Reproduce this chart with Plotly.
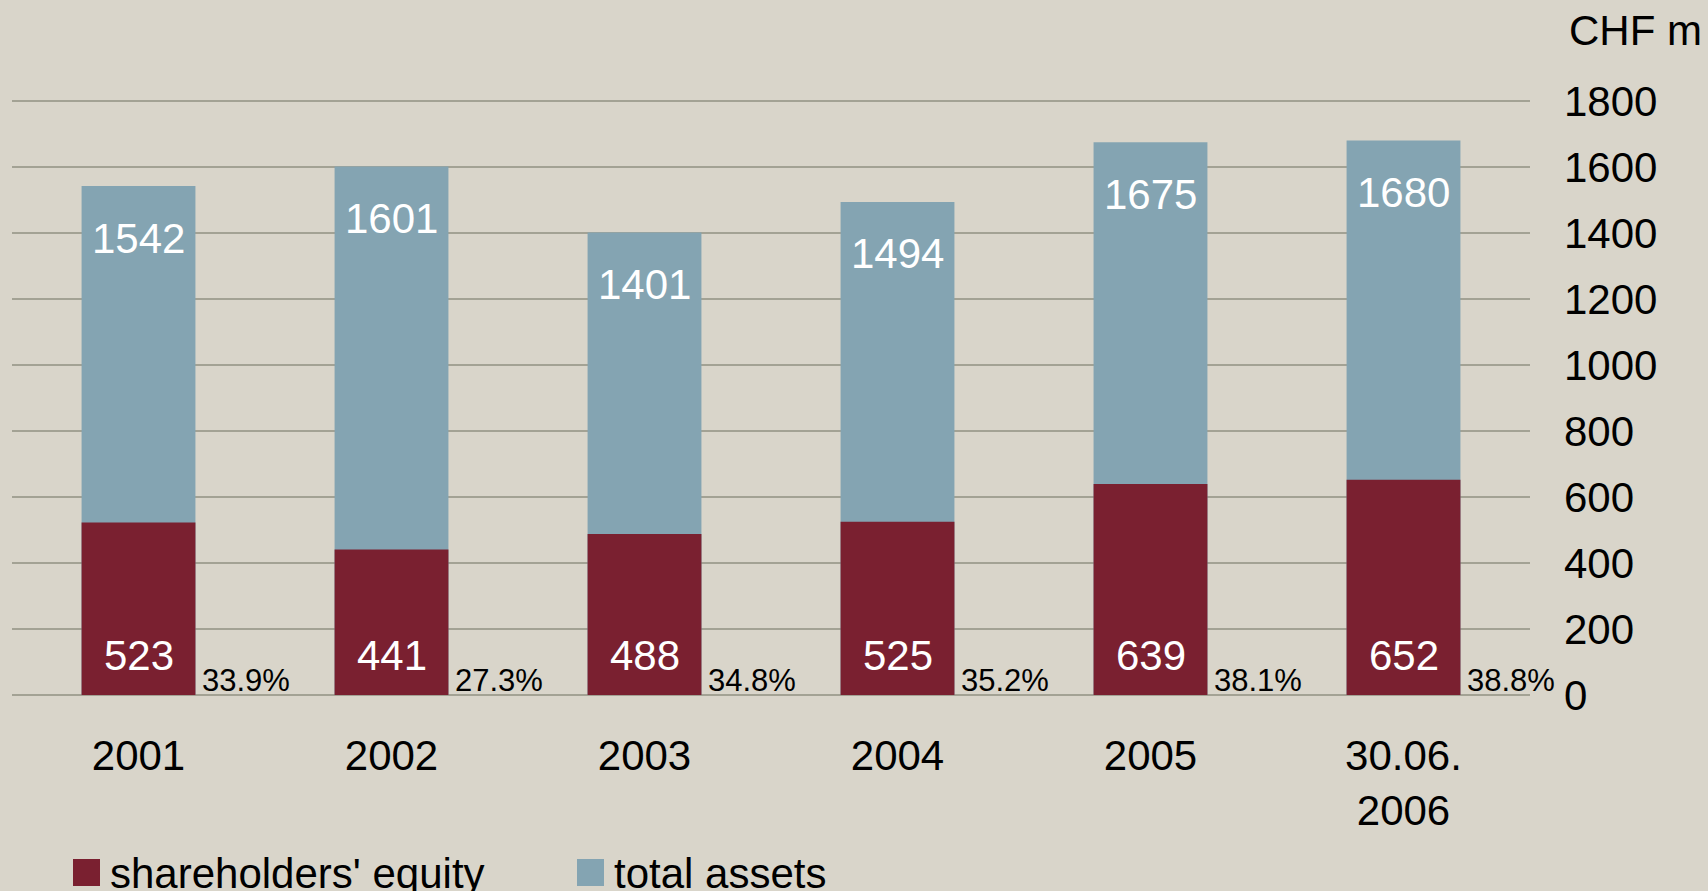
import plotly.graph_objects as go

# ---- data ----
categories = ["2001", "2002", "2003", "2004", "2005", "30.06.<br>2006"]
total_assets = [1542, 1601, 1401, 1494, 1675, 1680]
equity = [523, 441, 488, 525, 639, 652]
equity_ratio = ["33.9%", "27.3%", "34.8%", "35.2%", "38.1%", "38.8%"]
y_ticks = [0, 200, 400, 600, 800, 1000, 1200, 1400, 1600, 1800]

# ---- style ----
W, H = 1708, 891
ML, MR, MT, MB = 12, 178, 91, 196
PW, PH = W - ML - MR, H - MT - MB
Y_MAX = 1830
BG = "#D9D5CA"
GRID = "#A3A294"
C_EQ = "#7A2030"
C_TA = "#84A4B2"
FONT = "Liberation Sans, Arial, sans-serif"
BIG = 42
SMALL = 31


def px_x(p):
    return (p - ML) / PW


def px_y(p):
    return (H - MB - p) / PH


fig = go.Figure()
fig.add_trace(go.Bar(x=categories, y=total_assets, name="total assets",
                     marker=dict(color=C_TA, line=dict(width=0)), showlegend=False,
                     hoverinfo="x+y"))
fig.add_trace(go.Bar(x=categories, y=equity, name="shareholders' equity",
                     marker=dict(color=C_EQ, line=dict(width=0)), showlegend=False,
                     hoverinfo="x+y"))

annotations = []
for i, (ta, eq, r) in enumerate(zip(total_assets, equity, equity_ratio)):
    annotations.append(dict(x=i, y=ta, xref="x", yref="y", text=str(ta), showarrow=False,
                            yanchor="middle", yshift=-52,
                            font=dict(family=FONT, size=BIG, color="white")))
    annotations.append(dict(x=i, y=0, xref="x", yref="y", text=str(eq), showarrow=False,
                            yanchor="middle", yshift=40,
                            font=dict(family=FONT, size=BIG, color="white")))
    annotations.append(dict(x=i, y=0, xref="x", yref="y", text=r, showarrow=False,
                            xanchor="left", xshift=61, yanchor="middle", yshift=15,
                            font=dict(family=FONT, size=SMALL, color="black")))

# unit label
annotations.append(dict(x=px_x(1567), y=px_y(31), xref="paper", yref="paper", text="CHF m",
                        showarrow=False, xanchor="left", yanchor="middle",
                        font=dict(family=FONT, size=BIG, color="black")))

# manual legend
shapes = []
legend_items = [("shareholders' equity", C_EQ, 73), ("total assets", C_TA, 577)]
for label, col, x0 in legend_items:
    shapes.append(dict(type="rect", xref="paper", yref="paper",
                       x0=px_x(x0), x1=px_x(x0 + 27), y0=px_y(886), y1=px_y(859),
                       fillcolor=col, line=dict(width=0)))
    annotations.append(dict(x=px_x(x0 + 35), y=px_y(873), xref="paper", yref="paper",
                            text=label, showarrow=False, xanchor="left", yanchor="middle",
                            font=dict(family=FONT, size=BIG, color="black")))

fig.update_layout(
    width=W, height=H,
    margin=dict(l=ML, r=MR, t=MT, b=MB, pad=0),
    paper_bgcolor=BG, plot_bgcolor=BG,
    barmode="overlay", bargap=0.55,
    font=dict(family=FONT, size=BIG, color="black"),
    annotations=annotations, shapes=shapes,
    xaxis=dict(type="category", range=[-0.5, len(categories) - 0.5],
               showgrid=False, showline=False, zeroline=False,
               ticks="", tickfont=dict(size=BIG), ticklabelstandoff=32),
    yaxis=dict(side="right", range=[0, Y_MAX], tickvals=y_ticks,
               showgrid=True, gridcolor=GRID, gridwidth=1.5,
               zeroline=True, zerolinecolor=GRID, zerolinewidth=1.5,
               showline=False, ticks="", tickfont=dict(size=BIG),
               ticklabelstandoff=33),
    showlegend=False,
)

fig.write_html("out.html", config={"displayModeBar": False},
               post_script="document.body.style.margin='0';document.body.style.overflow='hidden';")
